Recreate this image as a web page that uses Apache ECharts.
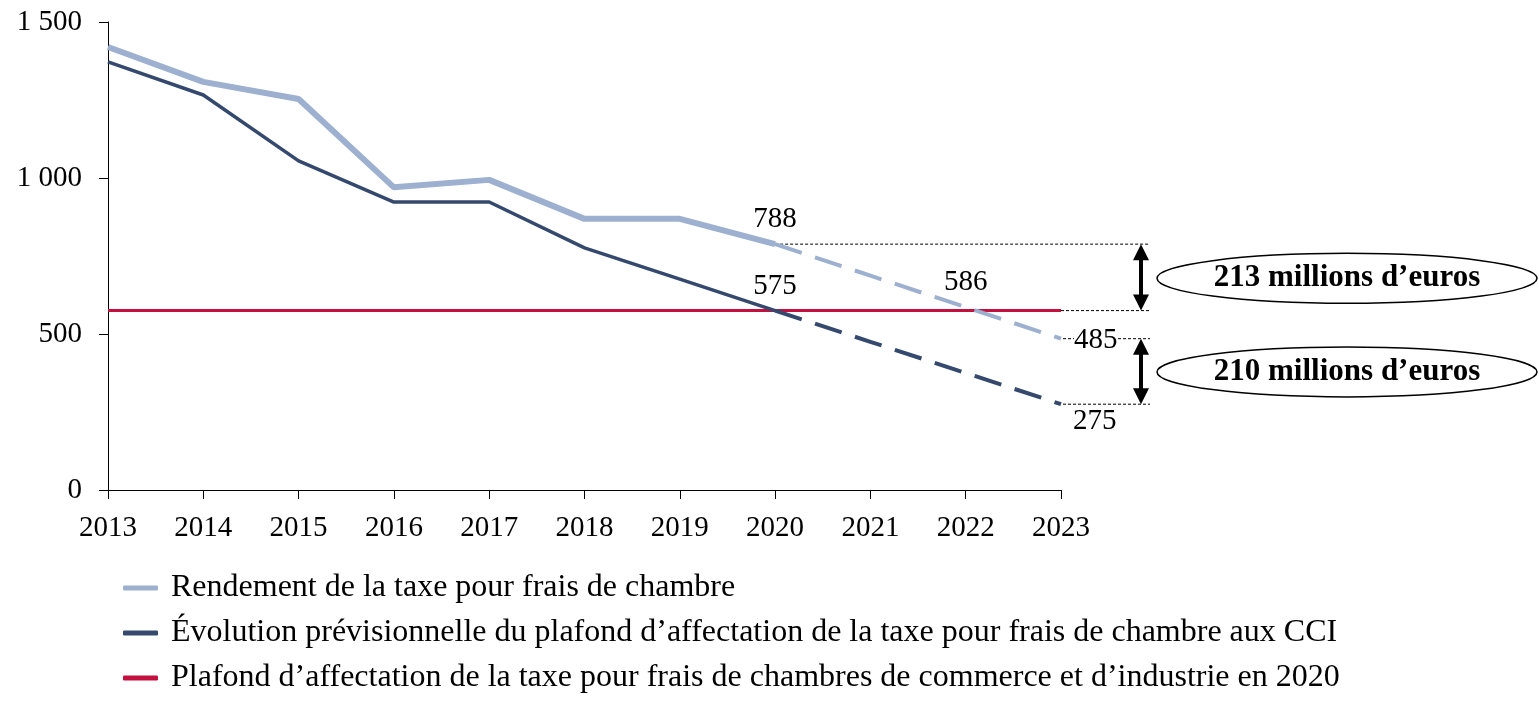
<!DOCTYPE html>
<html>
<head>
<meta charset="utf-8">
<script src="https://cdn.jsdelivr.net/npm/echarts@6/dist/echarts.min.js"></script>
<style>
html,body{margin:0;padding:0;background:#fff;}
#chart{width:1539px;height:705px;}
</style>
</head>
<body>
<div id="chart"></div>
<script>
const years = ['2013','2014','2015','2016','2017','2018','2019','2020','2021','2022','2023'];
const rendement = [1420, 1308, 1253, 970, 994, 869, 869, 788, 687, 586, 485];
const plafondEvol = [1372, 1266, 1055, 923, 923, 776, 676, 575, 475, 375, 275];
const plafond2020 = [575, 575, 575, 575, 575, 575, 575, 575, 575, 575, 575];
const lastActual = 7; // 2020 : dernière année réalisée, ensuite prévisions
const yTicks = [0, 500, 1000, 1500];
const gapTop = 213;
const gapBottom = 210;
const names = [
  'Rendement de la taxe pour frais de chambre',
  'Évolution prévisionnelle du plafond d\u2019affectation de la taxe pour frais de chambre aux CCI',
  'Plafond d\u2019affectation de la taxe pour frais de chambres de commerce et d\u2019industrie en 2020'
];

const FONT = '"Liberation Serif", "DejaVu Serif", serif';
const cLight = '#9DB0D0';
const cDark = '#34496D';
const cRed = '#C4103F';

const labelStyle = {show: true, color: '#000', fontFamily: FONT, fontSize: 29};

function build(arr, keep, labels) {
  return arr.map((v, i) => {
    if (!keep(i)) return null;
    const d = {value: v};
    if (labels && labels[i]) d.label = Object.assign({}, labelStyle, labels[i]);
    return d;
  });
}
const solid = (arr, labels) => build(arr, i => i <= lastActual, labels);
const dashed = (arr, labels) => build(arr, i => i >= lastActual, labels);

const chart = echarts.init(document.getElementById('chart'), null, {renderer: 'canvas'});

const lineBase = {type: 'line', symbol: 'circle', symbolSize: 0, showSymbol: true, label: {show: false}, emphasis: {disabled: true}};

const option = {
  animation: false,
  backgroundColor: '#fff',
  grid: {left: 108, right: 478, top: 22, bottom: 215, containLabel: false},
  legend: {
    orient: 'vertical',
    left: 118, top: 567,
    itemWidth: 35, itemHeight: 5,
    itemGap: 13,
    icon: 'roundRect',
    textStyle: {fontFamily: FONT, fontSize: 32, color: '#000', lineHeight: 30, padding: [0,0,0,8]},
    data: [
      {name: names[0], itemStyle: {color: cLight}},
      {name: names[1], itemStyle: {color: cDark}},
      {name: names[2], itemStyle: {color: cRed}}
    ]
  },
  xAxis: {
    type: 'category',
    data: years,
    boundaryGap: false,
    axisLine: {lineStyle: {color: '#000', width: 1}},
    axisTick: {show: true, length: 9, lineStyle: {color: '#000'}, alignWithLabel: true},
    axisLabel: {color: '#000', fontFamily: FONT, fontSize: 29, margin: 24},
    splitLine: {show: false}
  },
  yAxis: {
    type: 'value',
    min: 0, max: 1500, interval: 500,
    axisLine: {show: true, lineStyle: {color: '#000', width: 1}},
    axisTick: {show: true, length: 9, lineStyle: {color: '#000'}},
    axisLabel: {
      color: '#000', fontFamily: FONT, fontSize: 29, margin: 26,
      formatter: v => yTicks.indexOf(v) >= 0 ? String(v).replace(/\B(?=(\d{3})+(?!\d))/g, ' ') : ''
    },
    splitLine: {show: false}
  },
  series: [
    Object.assign({}, lineBase, {
      name: names[2], data: plafond2020,
      lineStyle: {color: cRed, width: 3}, itemStyle: {color: cRed}, z: 2
    }),
    Object.assign({}, lineBase, {
      name: names[0],
      data: solid(rendement, {7: {position: 'top', distance: 10}}),
      lineStyle: {color: cLight, width: 6}, itemStyle: {color: cLight}, z: 3
    }),
    Object.assign({}, lineBase, {
      name: names[0] + ' (prévision)',
      data: dashed(rendement, {9: {position: 'top', distance: 10}, 10: {position: 'right', distance: 13, offset: [0, 2], backgroundColor: '#fff'}}),
      lineStyle: {color: cLight, width: 4, type: [28, 14]}, itemStyle: {color: cLight}, z: 3
    }),
    Object.assign({}, lineBase, {
      name: names[1],
      data: solid(plafondEvol, {7: {position: 'top', distance: 10}}),
      lineStyle: {color: cDark, width: 3.5}, itemStyle: {color: cDark}, z: 4
    }),
    Object.assign({}, lineBase, {
      name: names[1] + ' (prévision)',
      data: dashed(plafondEvol, {10: {position: 'right', distance: 12, offset: [0, 17], backgroundColor: '#fff'}}),
      lineStyle: {color: cDark, width: 4, type: [28, 14]}, itemStyle: {color: cDark}, z: 4
    })
  ]
};
chart.setOption(option);

// Annotations placées à partir des coordonnées calculées par les axes
const px = (cat, v) => chart.convertToPixel({xAxisIndex: 0, yAxisIndex: 0}, [cat, v]);
const last = years.length - 1;
const pA = px(years[lastActual], rendement[lastActual]);   // 788 en 2020
const pB = px(years[last], plafond2020[last]);            // 575 en 2023
const pC = px(years[last], rendement[last]);              // 485 en 2023
const pD = px(years[last], plafondEvol[last]);            // 275 en 2023
const xEnd = pB[0] + 89;
const xArrow = pB[0] + 80;
const cxEll = pB[0] + 286;

function refLine(x1, y, x2) {
  return {type: 'line', z: 1, shape: {x1: x1, y1: y, x2: x2, y2: y},
    style: {stroke: '#000', lineWidth: 1, lineDash: [3, 2]}};
}
function arrow(x, y1, y2) {
  const hw = 8, hh = 16;
  return [
    {type: 'line', z: 5, shape: {x1: x, y1: y1 + hh - 2, x2: x, y2: y2 - hh + 2}, style: {stroke: '#000', lineWidth: 4}},
    {type: 'polygon', z: 5, shape: {points: [[x, y1], [x - hw, y1 + hh], [x + hw, y1 + hh]]}, style: {fill: '#000'}},
    {type: 'polygon', z: 5, shape: {points: [[x, y2], [x - hw, y2 - hh], [x + hw, y2 - hh]]}, style: {fill: '#000'}}
  ];
}
function bubble(cy, text) {
  return [
    {type: 'ellipse', z: 5, shape: {cx: cxEll, cy: cy, rx: 190, ry: 25}, style: {fill: '#fff', stroke: '#000', lineWidth: 1.5}},
    {type: 'text', z: 6, x: cxEll, y: cy, style: {text: text, fill: '#000', font: 'bold 31px ' + FONT, align: 'center', verticalAlign: 'middle'}}
  ];
}

chart.setOption({
  graphic: [
    refLine(pA[0], pA[1], xEnd),
    refLine(pB[0], pB[1], xEnd),
    refLine(pC[0] + 2, pC[1], xEnd),
    refLine(pD[0] + 2, pD[1], xEnd),
    ...arrow(xArrow, pA[1], pB[1]),
    ...arrow(xArrow, pC[1], pD[1]),
    ...bubble((pA[1] + pB[1]) / 2 + 1, gapTop + ' millions d\u2019euros'),
    ...bubble((pC[1] + pD[1]) / 2 + 0.5, gapBottom + ' millions d\u2019euros')
  ]
});
</script>
</body>
</html>
